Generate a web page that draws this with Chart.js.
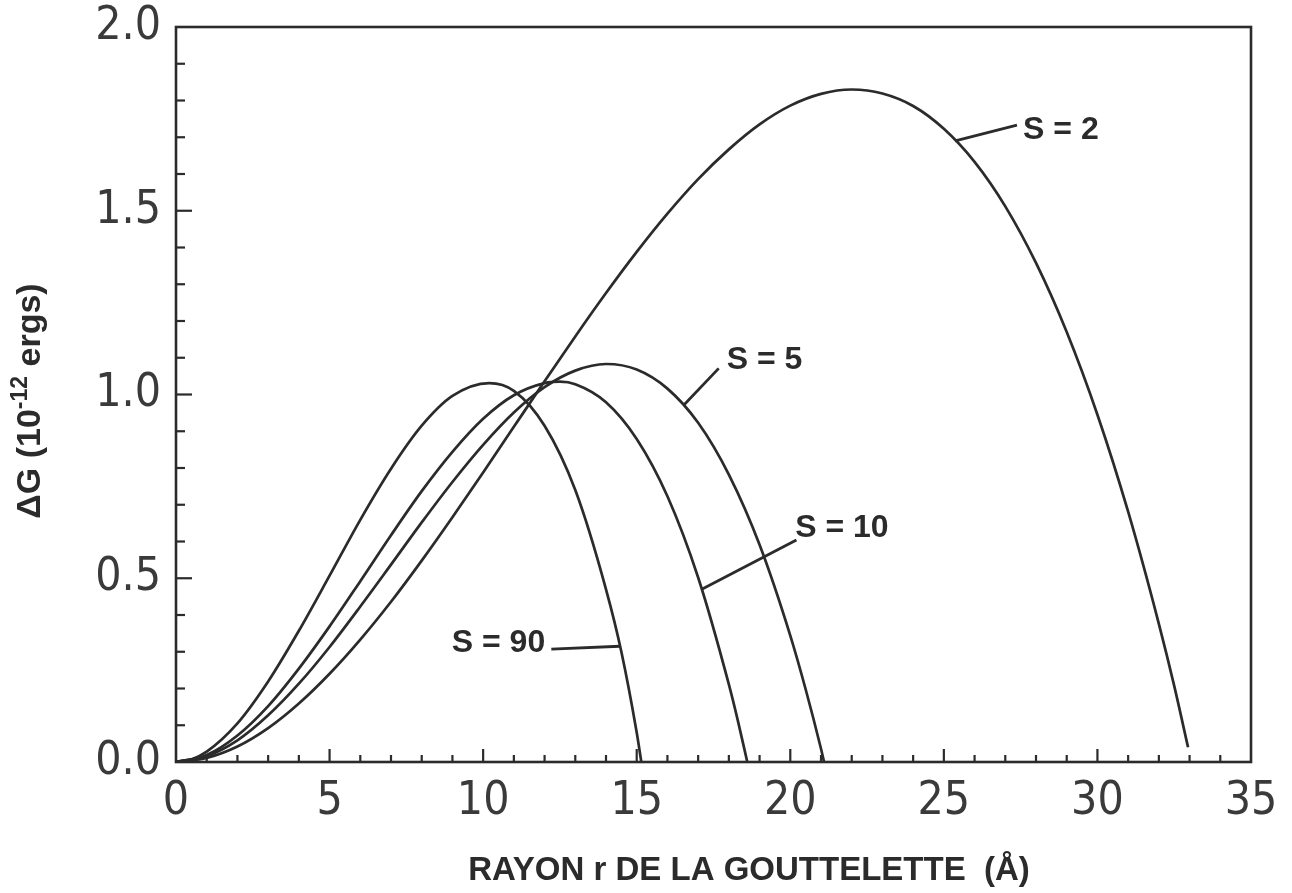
<!DOCTYPE html>
<html>
<head>
<meta charset="utf-8">
<script src="https://cdn.jsdelivr.net/npm/chart.js@4/dist/chart.umd.min.js"></script>
<style>
  html, body { margin: 0; padding: 0; background: #ffffff; }
  #wrap { width: 1292px; height: 893px; }
</style>
</head>
<body>
<div id="wrap"><canvas id="c" width="1292" height="893"></canvas></div>
<script>
// Droplet radius r (Å) and free energy ΔG (10^-12 erg) for each supersaturation S
const radiusS2  = [0,1,2,3,4,5,6,7,8,9,10,11,12,13,14,15,16,17,18,19,20,21,22,23,24,25,26,27,28,29,30,31,32,32.5,32.95];
const deltaGS2  = [0,0.011,0.042,0.092,0.159,0.240,0.333,0.436,0.548,0.666,0.788,0.912,1.036,1.158,1.276,1.388,1.492,1.586,1.667,1.735,1.786,1.818,1.830,1.819,1.785,1.723,1.633,1.512,1.358,1.170,0.945,0.681,0.376,0.207,0.04];

const radiusS5  = [0,1,2,3,4,5,6,7,8,9,10,11,12,13,14,15,16,17,18,19,20,20.5,21,21.1];
const deltaGS5  = [0,0.016,0.059,0.127,0.213,0.313,0.423,0.537,0.652,0.762,0.863,0.951,1.020,1.065,1.083,1.068,1.016,0.923,0.782,0.591,0.344,0.198,0.036,0];

const radiusS10 = [0,1,2,3,4,5,6,7,8,9,10,11,12,12.5,13,14,15,16,17,18,18.3,18.6];
const deltaGS10 = [0,0.019,0.072,0.152,0.254,0.369,0.492,0.617,0.737,0.844,0.934,0.998,1.031,1.035,1.028,0.979,0.879,0.723,0.502,0.211,0.11,0];

const radiusS90 = [0,0.5,1,2,3,4,5,6,7,8,9,10.2,11,12,13,14,14.5,15,15.15];
const deltaGS90 = [0,0.007,0.028,0.105,0.219,0.357,0.507,0.659,0.798,0.915,0.996,1.031,1.010,0.915,0.740,0.470,0.30,0.08,0];

// Axis ticks
const xTickValues = [0,5,10,15,20,25,30,35];
const yTickValues = [0.0,0.5,1.0,1.5,2.0];

// Curve labels: text, leader line from the curve, and where the text sits (data units)
const curveLabels = ['S = 2', 'S = 5', 'S = 10', 'S = 90'];
const leaderFrom  = [[25.37,1.69],[16.52,0.97],[17.12,0.47],[14.45,0.315]];
const leaderTo    = [[27.38,1.733],[17.67,1.071],[20.20,0.604],[12.22,0.307]];
const labelAt     = [[27.58,1.72],[17.93,1.094],[20.16,0.637],[12.02,0.324]];
const labelAlign  = ['left','left','left','right'];

const INK = '#2b2b2b';

function pts(xs, ys) { return xs.map((x, i) => ({ x: x, y: ys[i] })); }

const seriesStyle = {
  borderColor: INK,
  borderWidth: 2.7,
  pointRadius: 0,
  fill: false,
  cubicInterpolationMode: 'monotone'
};

const tickFont = {
  family: '"Liberation Sans Narrow", "DejaVu Sans Condensed", "DejaVu Sans", sans-serif',
  size: 46,
  weight: '200',
  lineHeight: 1
};

// Frame, inward ticks, titles and curve labels
const decorations = {
  id: 'decorations',
  afterDraw(chart) {
    const ctx = chart.ctx;
    const a = chart.chartArea;
    const xs = chart.scales.x, ys = chart.scales.y;
    ctx.save();
    ctx.strokeStyle = INK;
    ctx.fillStyle = INK;
    ctx.lineCap = 'butt';

    // frame
    ctx.lineWidth = 2.6;
    ctx.strokeRect(a.left, a.top, a.right - a.left, a.bottom - a.top);

    // x ticks every 1 Å, longer every 5
    ctx.lineWidth = 2.2;
    for (let v = 1; v < 35; v++) {
      const px = xs.getPixelForValue(v);
      const len = (v % 5 === 0) ? 13 : 7;
      ctx.beginPath();
      ctx.moveTo(px, a.bottom);
      ctx.lineTo(px, a.bottom - len);
      ctx.stroke();
    }
    // y ticks every 0.1, longer every 0.5
    for (let k = 1; k < 20; k++) {
      const py = ys.getPixelForValue(k / 10);
      const len = (k % 5 === 0) ? 16 : 9;
      ctx.beginPath();
      ctx.moveTo(a.left, py);
      ctx.lineTo(a.left + len, py);
      ctx.stroke();
    }

    // x title
    ctx.font = 'bold 33px "Liberation Sans", Arial, sans-serif';
    ctx.textAlign = 'center';
    ctx.textBaseline = 'alphabetic';
    ctx.fillText('RAYON r DE LA GOUTTELETTE  (Å)', 749, 880);

    // y title with superscript exponent
    ctx.save();
    ctx.translate(40, 401);
    ctx.rotate(-Math.PI / 2);
    const big = 'bold 34px "Liberation Sans", Arial, sans-serif';
    const small = 'bold 23px "Liberation Sans", Arial, sans-serif';
    const parts = [['ΔG (10', big, 0], ['-12', small, -13], [' ergs)', big, 0]];
    let total = 0;
    parts.forEach(p => { ctx.font = p[1]; total += ctx.measureText(p[0]).width; });
    let u = -total / 2;
    ctx.textAlign = 'left';
    parts.forEach(p => {
      ctx.font = p[1];
      ctx.fillText(p[0], u, p[2]);
      u += ctx.measureText(p[0]).width;
    });
    ctx.restore();

    // curve labels with leader lines
    ctx.lineWidth = 2.8;
    ctx.font = 'bold 32px "Liberation Sans", Arial, sans-serif';
    ctx.textBaseline = 'middle';
    curveLabels.forEach((txt, i) => {
      ctx.beginPath();
      ctx.moveTo(xs.getPixelForValue(leaderFrom[i][0]), ys.getPixelForValue(leaderFrom[i][1]));
      ctx.lineTo(xs.getPixelForValue(leaderTo[i][0]), ys.getPixelForValue(leaderTo[i][1]));
      ctx.stroke();
      ctx.textAlign = labelAlign[i];
      ctx.fillText(txt, xs.getPixelForValue(labelAt[i][0]), ys.getPixelForValue(labelAt[i][1]));
    });
    ctx.restore();
  }
};

new Chart(document.getElementById('c'), {
  type: 'line',
  data: {
    datasets: [
      Object.assign({ label: 'S = 2',  data: pts(radiusS2,  deltaGS2)  }, seriesStyle),
      Object.assign({ label: 'S = 5',  data: pts(radiusS5,  deltaGS5)  }, seriesStyle),
      Object.assign({ label: 'S = 10', data: pts(radiusS10, deltaGS10) }, seriesStyle),
      Object.assign({ label: 'S = 90', data: pts(radiusS90, deltaGS90) }, seriesStyle)
    ]
  },
  options: {
    responsive: false,
    animation: false,
    events: [],
    layout: { padding: { left: 0, top: 27, right: 41, bottom: 0 } },
    plugins: { legend: { display: false }, tooltip: { enabled: false } },
    scales: {
      x: {
        type: 'linear',
        min: 0, max: 35,
        afterBuildTicks(scale) { scale.ticks = xTickValues.map(v => ({ value: v })); },
        afterFit(scale) { scale.height = 131; scale.paddingLeft = 0; scale.paddingRight = 0; },
        grid: { display: false, drawTicks: false },
        border: { display: false },
        ticks: {
          autoSkip: false,
          maxRotation: 0,
          padding: 17,
          color: '#3a3a3a',
          font: tickFont,
          callback: v => String(v)
        }
      },
      y: {
        type: 'linear',
        min: 0, max: 2,
        afterBuildTicks(scale) { scale.ticks = yTickValues.map(v => ({ value: v })); },
        afterFit(scale) { scale.width = 176; scale.paddingTop = 0; scale.paddingBottom = 0; },
        grid: { display: false, drawTicks: false },
        border: { display: false },
        ticks: {
          autoSkip: false,
          padding: 15,
          color: '#3a3a3a',
          font: tickFont,
          callback: v => Number(v).toFixed(1)
        }
      }
    }
  },
  plugins: [decorations]
});
</script>
</body>
</html>
